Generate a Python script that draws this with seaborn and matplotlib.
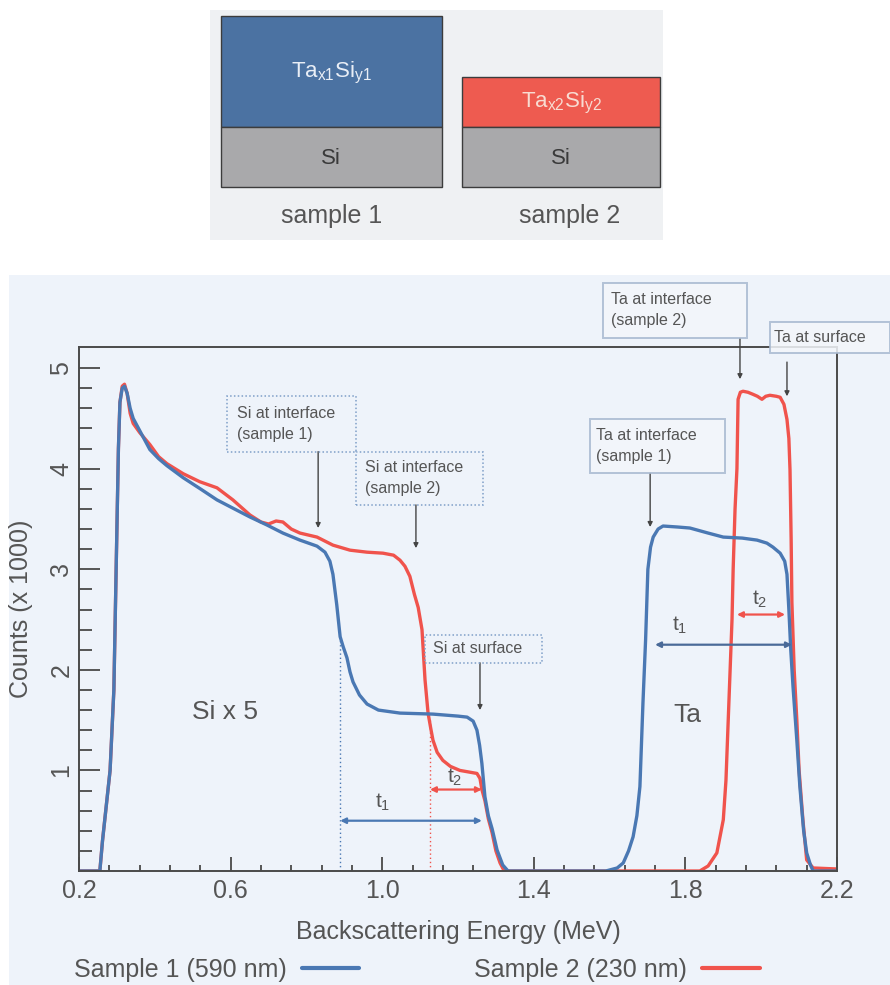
import numpy as np
import pandas as pd
import matplotlib
matplotlib.use("Agg")
import matplotlib.pyplot as plt
from matplotlib.patches import Rectangle
from matplotlib.lines import Line2D
import seaborn as sns

# ---- RBS spectra (energy in MeV, counts in thousands) ----
energy_s1 = [0.20, 0.255, 0.262, 0.282, 0.292, 0.296, 0.304, 0.308, 0.314, 0.320, 0.327,
             0.335, 0.343, 0.36, 0.387, 0.41, 0.432, 0.475, 0.52, 0.564, 0.61, 0.651,
             0.696, 0.738, 0.783, 0.828, 0.849, 0.862, 0.870, 0.88, 0.889, 0.897, 0.907,
             0.915, 0.923, 0.94, 0.96, 0.99, 1.047, 1.134, 1.2, 1.224, 1.24, 1.25, 1.257,
             1.263, 1.271, 1.28, 1.29, 1.303, 1.318, 1.332, 1.59, 1.62, 1.636, 1.65, 1.662,
             1.672, 1.68, 1.688, 1.695, 1.701, 1.708, 1.715, 1.728, 1.741, 1.78, 1.812,
             1.86, 1.90, 1.95, 1.989, 2.015, 2.031, 2.05, 2.062, 2.068, 2.073, 2.078,
             2.084, 2.094, 2.102, 2.112, 2.12, 2.13, 2.137, 2.2]
counts_s1 = [0.0, 0.0, 0.3, 1.0, 1.8, 2.6, 4.2, 4.66, 4.80, 4.82, 4.75,
             4.60, 4.50, 4.38, 4.19, 4.10, 4.03, 3.91, 3.80, 3.69, 3.60, 3.52,
             3.44, 3.36, 3.29, 3.23, 3.17, 3.08, 2.95, 2.65, 2.33, 2.23, 2.12,
             1.98, 1.88, 1.75, 1.66, 1.60, 1.57, 1.56, 1.54, 1.53, 1.49, 1.40, 1.25,
             1.07, 0.74, 0.55, 0.42, 0.21, 0.06, 0.0, 0.0, 0.03, 0.08, 0.2, 0.34,
             0.55, 0.84, 1.67, 2.3, 3.0, 3.22, 3.32, 3.40, 3.43, 3.42, 3.41,
             3.36, 3.32, 3.31, 3.29, 3.26, 3.22, 3.16, 3.08, 2.95, 2.6, 2.2,
             1.83, 1.3, 0.84, 0.4, 0.18, 0.06, 0.0, 0.0]

energy_s2 = [0.20, 0.255, 0.262, 0.282, 0.292, 0.296, 0.304, 0.308, 0.314, 0.320, 0.327,
             0.335, 0.343, 0.36, 0.387, 0.41, 0.432, 0.475, 0.519, 0.564, 0.606, 0.651,
             0.68, 0.70, 0.72, 0.738, 0.76, 0.783, 0.828, 0.87, 0.915, 0.96, 1.002,
             1.03, 1.047, 1.06, 1.073, 1.085, 1.095, 1.105, 1.113, 1.121, 1.128, 1.134,
             1.145, 1.16, 1.18, 1.205, 1.25, 1.258, 1.263, 1.271, 1.28, 1.29, 1.30,
             1.311, 1.322, 1.838, 1.86, 1.883, 1.9, 1.907, 1.913, 1.923, 1.926, 1.931,
             1.936, 1.939, 1.945, 1.952, 1.965, 1.978, 1.99, 2.002, 2.012, 2.023, 2.04,
             2.05, 2.06, 2.068, 2.073, 2.076, 2.079, 2.081, 2.087, 2.094, 2.10, 2.11,
             2.12, 2.137, 2.2]
counts_s2 = [0.0, 0.0, 0.3, 1.0, 1.8, 2.6, 4.2, 4.66, 4.82, 4.84, 4.75,
             4.55, 4.45, 4.36, 4.24, 4.12, 4.05, 3.95, 3.87, 3.81, 3.69, 3.54,
             3.47, 3.45, 3.48, 3.47, 3.40, 3.36, 3.32, 3.24, 3.19, 3.17, 3.16,
             3.14, 3.09, 3.03, 2.93, 2.75, 2.62, 2.40, 1.90, 1.57, 1.42, 1.30,
             1.18, 1.10, 1.04, 1.00, 0.97, 0.92, 0.81, 0.70, 0.52, 0.38, 0.20,
             0.08, 0.0, 0.0, 0.05, 0.18, 0.51, 0.9, 1.5, 2.5, 3.0, 3.6,
             4.0, 4.69, 4.76, 4.77, 4.76, 4.74, 4.72, 4.69, 4.72, 4.73, 4.72,
             4.71, 4.64, 4.49, 4.3, 3.99, 3.3, 2.67, 2.0, 1.5, 1.0, 0.51,
             0.11, 0.03, 0.02]

series_names = ["Sample 1 (590 nm)", "Sample 2 (230 nm)"]
BLUE = "#4a78b3"
RED = "#f0534c"

# film thickness markers (energy widths t1, t2) for Si and Ta signals
si_t1 = (0.889, 1.263)
si_t2 = (1.126, 1.263)
ta_t1 = (1.72, 2.081)
ta_t2 = (1.936, 2.063)

x_major = [0.2, 0.6, 1.0, 1.4, 1.8, 2.2]
y_major = [1, 2, 3, 4, 5]

sns.set_theme(style="ticks")
plt.rcParams["font.family"] = ["Liberation Sans", "DejaVu Sans"]
plt.rcParams["mathtext.fontset"] = "custom"
plt.rcParams["mathtext.rm"] = "Liberation Sans"
plt.rcParams["mathtext.it"] = "Liberation Sans:italic"

W, H = 890, 985
fig = plt.figure(figsize=(W / 100, H / 100), dpi=100)
fig.patch.set_facecolor("white")

# ---- background layer in pixel coordinates: layer schematic ----
bg = fig.add_axes([0, 0, 1, 1], zorder=0)
bg.set_xlim(0, W)
bg.set_ylim(H, 0)
bg.axis("off")

def box(ax, x0, y0, x1, y1, **kw):
    ax.add_patch(Rectangle((x0, y0), x1 - x0, y1 - y0, **kw))

box(bg, 9, 275, W, H, facecolor="#eef3fa", edgecolor="none")
box(bg, 210, 10, 663, 240, facecolor="#eff1f3", edgecolor="none")
box(bg, 221, 16, 442, 127, facecolor="#4b72a2", edgecolor="#3c3c3c", lw=1)
box(bg, 221, 127, 442, 187, facecolor="#a9a9ab", edgecolor="#3c3c3c", lw=1)
box(bg, 462, 77, 660, 127, facecolor="#ee5b50", edgecolor="#3c3c3c", lw=1)
box(bg, 462, 127, 660, 187, facecolor="#a9a9ab", edgecolor="#3c3c3c", lw=1)
bg.text(331, 73, r"Ta$_{\mathregular{x1}}$Si$_{\mathregular{y1}}$", color="#e9eef6",
        fontsize=16, ha="center", va="center")
bg.text(561, 103, r"Ta$_{\mathregular{x2}}$Si$_{\mathregular{y2}}$", color="#f8dcd2",
        fontsize=16, ha="center", va="center")
bg.text(331, 158, "Si", color="#3a3a3a", fontsize=16, ha="center", va="center")
bg.text(561, 158, "Si", color="#3a3a3a", fontsize=16, ha="center", va="center")
bg.text(332, 216, "sample 1", color="#555555", fontsize=18, ha="center", va="center")
bg.text(570, 216, "sample 2", color="#555555", fontsize=18, ha="center", va="center")

# ---- main spectrum axes ----
ax = fig.add_axes([79 / W, 1 - 871 / H, 758 / W, 524 / H], zorder=1)
ax.set_facecolor("none")

df = pd.concat([
    pd.DataFrame({"energy": energy_s2, "counts": counts_s2, "sample": series_names[1]}),
    pd.DataFrame({"energy": energy_s1, "counts": counts_s1, "sample": series_names[0]}),
], ignore_index=True)
sns.lineplot(data=df, x="energy", y="counts", hue="sample", sort=False,
             estimator=None, palette={series_names[0]: BLUE, series_names[1]: RED},
             linewidth=2.4, legend=False, ax=ax)

ax.set_xlim(0.2, 2.2)
ax.set_ylim(0, 5.21)
ax.set_xticks(x_major)
ax.set_xticklabels([f"{v:.1f}" for v in x_major])
ax.set_xticks(np.arange(0.2, 2.2001, 0.08), minor=True)
ax.set_yticks(y_major)
ax.set_yticklabels([str(v) for v in y_major])
ax.set_yticks(np.arange(0.2, 5.2, 0.2), minor=True)

for s in ax.spines.values():
    s.set_color("#4a4a4a")
    s.set_linewidth(1.4)
ax.tick_params(axis="both", which="both", direction="in", color="#555555",
               labelcolor="#555555", labelsize=18, top=False, right=False)
ax.tick_params(axis="x", which="major", length=10, width=1.4, pad=6)
ax.tick_params(axis="x", which="minor", length=4, width=1.4)
ax.tick_params(axis="y", which="major", length=15, width=1.4, pad=4, labelrotation=90)
ax.tick_params(axis="y", which="minor", length=9, width=1.4)
for lab in ax.get_yticklabels():
    lab.set_va("center")

ax.set_xlabel("Backscattering Energy (MeV)", fontsize=18, color="#555555", labelpad=12)
ax.set_ylabel("Counts (x 1000)", fontsize=18, color="#555555", labelpad=12)

TXT = "#555555"
ax.text(0.585, 1.58, "Si x 5", fontsize=19, color=TXT, ha="center", va="center")
ax.text(1.804, 1.55, "Ta", fontsize=19, color=TXT, ha="center", va="center")

# thickness guides for the Si edge
ax.plot([si_t1[0], si_t1[0]], [0, 2.3], ls=(0, (1, 2)), color=BLUE, lw=1)
ax.plot([si_t2[0], si_t2[0]], [0, 1.5], ls=(0, (1, 2)), color=RED, lw=1)

def span(x0, x1, y, color, label, lx, ly):
    ax.annotate("", xy=(x0, y), xytext=(x1, y),
                arrowprops=dict(arrowstyle="<|-|>", color=color, lw=1.6,
                                mutation_scale=8, shrinkA=0, shrinkB=0))
    ax.text(lx, ly, label, fontsize=15, color=TXT, ha="center", va="center")

span(*si_t1, 0.50, BLUE, r"$\mathregular{t_1}$", 1.0, 0.68)
span(*si_t2, 0.81, RED, r"$\mathregular{t_2}$", 1.192, 0.93)
span(*ta_t1, 2.25, "#4a6a98", r"$\mathregular{t_1}$", 1.786, 2.44)
span(*ta_t2, 2.55, RED, r"$\mathregular{t_2}$", 1.997, 2.70)

def label_box(x0, x1, y0, y1, text, tx, dotted):
    if dotted:
        ax.add_patch(Rectangle((x0, y0), x1 - x0, y1 - y0, fill=False,
                               edgecolor="#7f9fc8", lw=1.1, ls=(0, (1, 1.5)),
                               clip_on=False, zorder=4))
    else:
        ax.add_patch(Rectangle((x0, y0), x1 - x0, y1 - y0, facecolor="#f3f6fb",
                               alpha=0.85, edgecolor="#a8b9d0", lw=1.4,
                               clip_on=False, zorder=4))
    ax.text(tx, (y0 + y1) / 2, text, fontsize=11.5, color=TXT, ha="left",
            va="center", linespacing=1.5, clip_on=False, zorder=5)

def pointer(x, y0, y1):
    ax.annotate("", xy=(x, y1), xytext=(x, y0), annotation_clip=False,
                arrowprops=dict(arrowstyle="-|>", color="#444444", lw=1.0,
                                mutation_scale=7, shrinkA=0, shrinkB=0))

label_box(0.590, 0.931, 4.17, 4.72, "Si at interface\n(sample 1)", 0.617, True)
label_box(0.931, 1.266, 3.64, 4.17, "Si at interface\n(sample 2)", 0.955, True)
label_box(1.113, 1.422, 2.07, 2.35, "Si at surface", 1.134, True)
label_box(1.583, 1.963, 5.30, 5.85, "Ta at interface\n(sample 2)", 1.603, False)
label_box(2.023, 2.340, 5.15, 5.46, "Ta at surface", 2.035, False)
label_box(1.548, 1.904, 3.96, 4.49, "Ta at interface\n(sample 1)", 1.563, False)

pointer(0.831, 4.17, 3.41)
pointer(1.089, 3.64, 3.21)
pointer(1.258, 2.07, 1.60)
pointer(1.944, 5.30, 4.89)
pointer(2.068, 5.06, 4.72)
pointer(1.707, 3.96, 3.42)

# legend: text followed by line sample
handles = [Line2D([], [], color=BLUE, lw=3), Line2D([], [], color=RED, lw=3)]
leg = fig.legend(handles, series_names, loc="center left", ncol=2,
                 bbox_to_anchor=(74 / W, 1 - 970 / H), frameon=False,
                 markerfirst=False, fontsize=18, handlelength=2.3,
                 handletextpad=0.6, columnspacing=4.6, borderpad=0,
                 borderaxespad=0)
for t in leg.get_texts():
    t.set_color(TXT)

fig.savefig("out.png", dpi=100, facecolor=fig.get_facecolor())
